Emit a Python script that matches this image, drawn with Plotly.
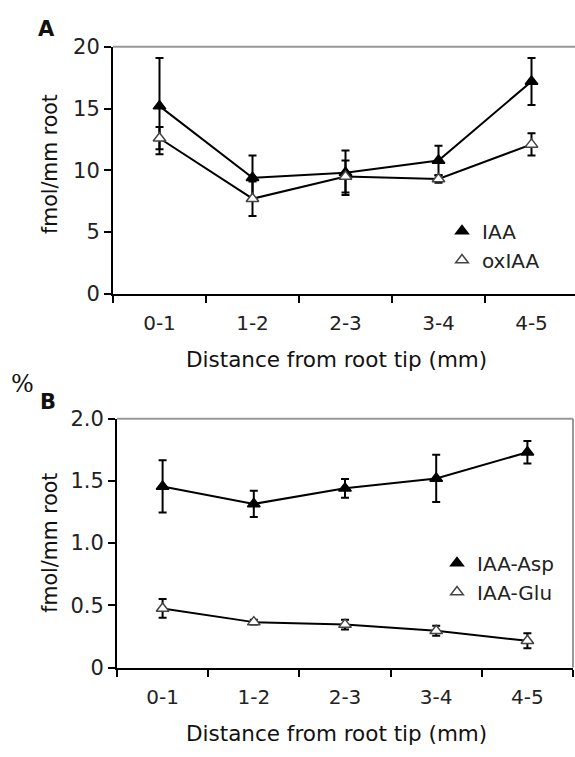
import plotly.graph_objects as go

categories = ["0-1", "1-2", "2-3", "3-4", "4-5"]

iaa = [15.2, 9.4, 9.8, 10.8, 17.2]
iaa_err = [3.9, 1.8, 1.8, 1.2, 1.9]
oxiaa = [12.6, 7.7, 9.5, 9.3, 12.1]
oxiaa_err = [0.9, 1.4, 1.3, 0.3, 0.9]

asp = [1.455, 1.315, 1.44, 1.52, 1.73]
asp_err = [0.21, 0.105, 0.075, 0.19, 0.09]
glu = [0.475, 0.365, 0.345, 0.295, 0.215]
glu_err = [0.075, 0.02, 0.04, 0.04, 0.06]

W, H = 575, 757
FONT = "DejaVu Sans"
xs = list(range(len(categories)))

fig = go.Figure()

def add_series(y, err, xa, ya, filled, name, legend):
    mk = dict(symbol="triangle-up", size=11,
              color="black" if filled else "white",
              line=dict(color="black" if filled else "#444", width=1.5))
    fig.add_trace(go.Scatter(
        x=xs, y=y, xaxis=xa, yaxis=ya, mode="lines+markers",
        line=dict(color="black", width=2), marker=mk,
        error_y=dict(type="data", array=err, visible=True, color="black",
                     thickness=2, width=4),
        showlegend=False, hoverinfo="skip"))
    fig.add_trace(go.Scatter(
        x=[None], y=[None], xaxis=xa, yaxis=ya, mode="markers", name=name,
        marker=mk, showlegend=True, legend=legend))

add_series(iaa, iaa_err, "x", "y", True, "IAA", "legend")
add_series(oxiaa, oxiaa_err, "x", "y", False, "oxIAA", "legend")
add_series(asp, asp_err, "x2", "y2", True, "IAA-Asp", "legend2")
add_series(glu, glu_err, "x2", "y2", False, "IAA-Glu", "legend2")

def xaxis_cfg(dom, rng):
    return dict(domain=dom, range=rng, tickmode="array", tickvals=xs, ticktext=categories,
                ticks="outside", ticklen=10, tickcolor="rgba(0,0,0,0)",
                showline=True, linecolor="black", linewidth=2,
                showgrid=False, zeroline=False,
                tickfont=dict(family=FONT, size=20, color="#222"),
                minor=dict(tickmode="array", tickvals=[-0.5, 0.5, 1.5, 2.5, 3.5, 4.5],
                           ticks="outside", ticklen=7, tickwidth=2, tickcolor="black"),
                fixedrange=True)

def yaxis_cfg(dom, rng, tv, tt, anchor):
    return dict(domain=dom, range=rng, tickmode="array", tickvals=tv, ticktext=tt,
                ticks="outside", ticklen=7, tickwidth=2, tickcolor="black",
                showline=True, linecolor="black", linewidth=2, showgrid=False,
                zeroline=False, anchor=anchor,
                tickfont=dict(family=FONT, size=21, color="#222"), fixedrange=True)

xa_l, xa_r = 113 / W, 1.0
xb_l, xb_r = 117 / W, 573 / W
rngA = [-0.5, -0.5 + (W - 113) / 93.0]

fig.update_layout(
    width=W, height=H, margin=dict(l=0, r=0, t=0, b=0),
    paper_bgcolor="white", plot_bgcolor="white",
    xaxis=xaxis_cfg([xa_l, xa_r], rngA) | dict(anchor="y"),
    yaxis=yaxis_cfg([1 - 291 / H, 1 - 36 / H], [0, 20], [0, 5, 10, 15, 20],
                    ["0", "5", "10", "15", "20"], "x"),
    xaxis2=xaxis_cfg([xb_l, xb_r], [-0.5, 4.5]) | dict(anchor="y2"),
    yaxis2=yaxis_cfg([1 - 677 / H, 1 - 420 / H], [0, 2.0], [0, 0.5, 1.0, 1.5, 2.0],
                     ["0", "0.5", "1.0", "1.5", "2.0"], "x2"),
    legend=dict(x=442 / W, y=1 - 206 / H, xanchor="left", yanchor="top",
                bgcolor="rgba(0,0,0,0)", font=dict(family=FONT, size=20, color="#222"),
                tracegroupgap=0, itemwidth=30),
    legend2=dict(x=437 / W, y=1 - 549 / H, xanchor="left", yanchor="top",
                 bgcolor="rgba(0,0,0,0)", font=dict(family=FONT, size=20, color="#222"),
                 tracegroupgap=0, itemwidth=30),
    showlegend=True,
)

fig.add_shape(type="line", xref="x domain", yref="y domain", x0=0, x1=1, y0=1, y1=1,
              line=dict(color="#999", width=2))
fig.add_shape(type="line", xref="x2 domain", yref="y2 domain", x0=0, x1=1, y0=1, y1=1,
              line=dict(color="#999", width=2))
fig.add_shape(type="line", xref="x2 domain", yref="y2 domain", x0=1, x1=1, y0=0, y1=1,
              line=dict(color="#999", width=2))

def ann(text, x, y, size, angle=0, bold=False, family=FONT):
    fig.add_annotation(text=f"<b>{text}</b>" if bold else text, xref="paper", yref="paper",
                       x=x / W, y=1 - y / H, showarrow=False, textangle=angle,
                       font=dict(family=family, size=size, color="#111"),
                       xanchor="center", yanchor="middle")

ann("A", 46, 18, 21, bold=True)
ann("B", 48, 403, 21, bold=True)
ann("%", 22, 384, 24, family="DejaVu Serif")
ann("fmol/mm root", 50, 157, 20.5, angle=-90)
ann("fmol/mm root", 50, 548, 20.5, angle=-90)
ann("Distance from root tip (mm)", 336, 359, 21.5)
ann("Distance from root tip (mm)", 336, 745, 21.5)

fig.write_html("out.html")
